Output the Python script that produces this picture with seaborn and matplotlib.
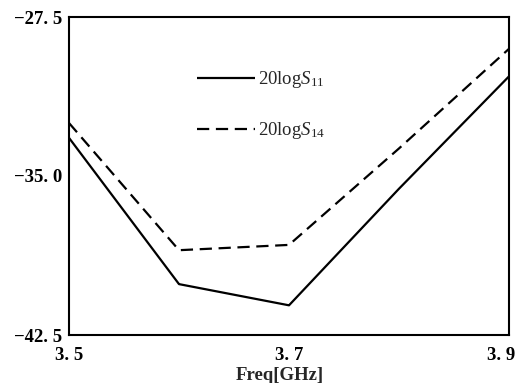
import matplotlib
matplotlib.use("Agg")
import matplotlib.pyplot as plt
from matplotlib.transforms import ScaledTranslation
import seaborn as sns
import pandas as pd

freq = [3.5, 3.6, 3.7, 3.8, 3.9]
s11 = [-33.2, -40.1, -41.1, -35.6, -30.3]
s14 = [-32.5, -38.5, -38.25, -33.7, -29.0]
series_names = [r"20log$\mathit{S}_{11}$", r"20log$\mathit{S}_{14}$"]
xticks = [3.5, 3.7, 3.9]
xticklabels = ["3. 5", "3. 7", "3. 9"]
yticks = [-42.5, -35.0, -27.5]
yticklabels = ["\u221242. 5", "\u221235. 0", "\u221227. 5"]
xminor = [3.6, 3.8]
yminor = [-38.75, -31.25]

df = pd.DataFrame({
    "freq": freq * 2,
    "val": s11 + s14,
    "series": [series_names[0]] * len(freq) + [series_names[1]] * len(freq),
})

sns.set_theme(style="white")
plt.rcParams["font.family"] = ["Liberation Serif", "DejaVu Serif"]
plt.rcParams["mathtext.fontset"] = "custom"
plt.rcParams["mathtext.rm"] = "Liberation Serif"
plt.rcParams["mathtext.it"] = "Liberation Serif:italic"

fig = plt.figure(figsize=(5.21, 3.83), dpi=100)
ax = fig.add_axes([69 / 521, 48 / 383, 440 / 521, 318 / 383])

sns.lineplot(data=df, x="freq", y="val", style="series", color="black",
             linewidth=1.6, dashes=[(1, 0), (5.5, 3)], ax=ax, legend=True)

ax.set_xlim(3.5, 3.9)
ax.set_ylim(-42.5, -27.5)
ax.set_xticks(xticks)
ax.set_xticklabels(xticklabels, fontsize=13.5, fontweight="bold")
ax.set_yticks(yticks)
ax.set_yticklabels(yticklabels, fontsize=13.5, fontweight="bold")
ax.set_xticks(xminor, minor=True)
ax.set_yticks(yminor, minor=True)
ax.tick_params(axis="both", which="both", direction="in", length=5, width=1.5,
               color="black", labelcolor="black")
ax.tick_params(axis="x", which="major", pad=9)
ax.tick_params(axis="y", which="major", pad=5)
# last x tick label sits a little left so it stays inside the figure
last = ax.get_xticklabels()[-1]
last.set_transform(last.get_transform() + ScaledTranslation(-8 / 100, 0, fig.dpi_scale_trans))

ax.set_xlabel("Freq[GHz]", fontsize=13.5, fontweight="bold")
ax.xaxis.set_label_coords(0.48, -0.1)
ax.xaxis.label.set_va("top")
ax.set_ylabel("")
for sp in ax.spines.values():
    sp.set_visible(True)
    sp.set_color("black")
    sp.set_linewidth(1.5)

handles, labels = ax.get_legend_handles_labels()
ax.legend(handles=handles, labels=labels, loc="upper left",
          bbox_to_anchor=(0.29, 0.836), frameon=False, fontsize=13.5,
          handlelength=3.1, handletextpad=0.2, labelspacing=1.6,
          borderpad=0, borderaxespad=0)

fig.savefig("out.png", dpi=100)
